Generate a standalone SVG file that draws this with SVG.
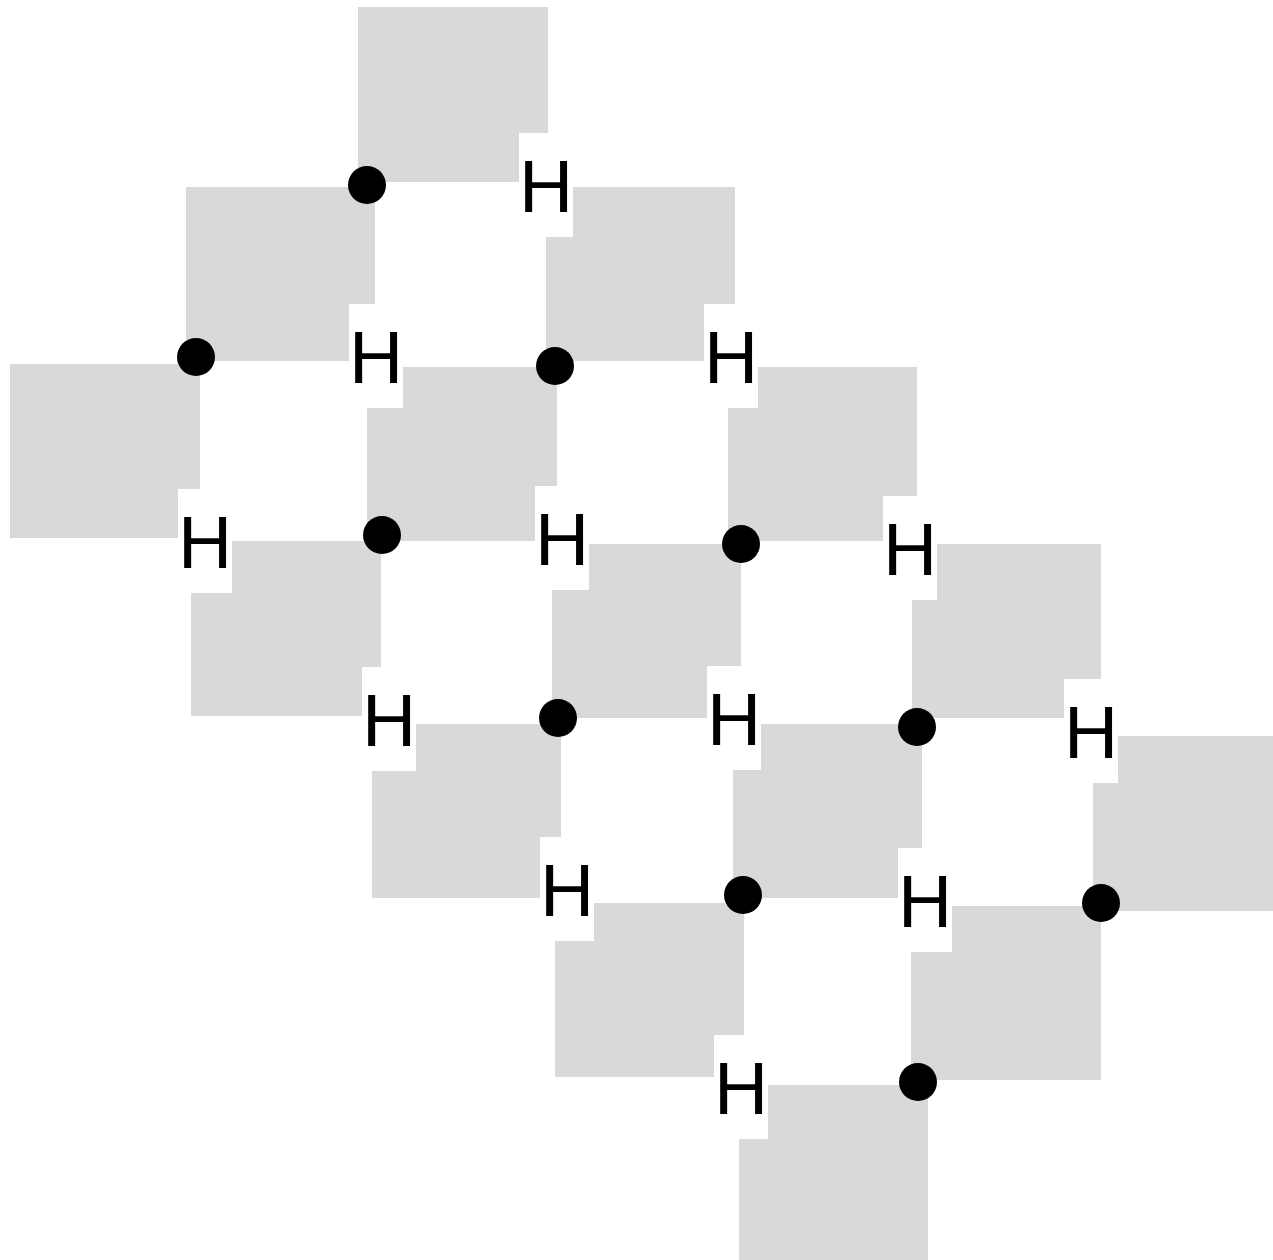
<svg xmlns="http://www.w3.org/2000/svg" width="1273" height="1260" viewBox="0 0 1273 1260">
<style>
.sq{fill:#d9d9d9}
.lb{fill:#ffffff}
.h{font-family:"Liberation Sans",Arial,sans-serif;font-size:75px;fill:#000;text-anchor:middle}
.dot{fill:#000}
</style>
<rect width="1273" height="1260" fill="#ffffff"/>
<g id="squares">
<rect id="sq1" class="sq" x="358" y="7" width="190" height="175"/>
<rect id="sq2" class="sq" x="186" y="187" width="189" height="174"/>
<rect id="sq3" class="sq" x="10" y="364" width="190" height="174"/>
<rect id="sq4" class="sq" x="546" y="187" width="189" height="174"/>
<rect id="sq5" class="sq" x="367" y="367" width="190" height="174"/>
<rect id="sq6" class="sq" x="191" y="541" width="190" height="175"/>
<rect id="sq7" class="sq" x="728" y="367" width="189" height="174"/>
<rect id="sq8" class="sq" x="552" y="544" width="189" height="174"/>
<rect id="sq9" class="sq" x="912" y="544" width="189" height="174"/>
<rect id="sq10" class="sq" x="372" y="724" width="189" height="174"/>
<rect id="sq11" class="sq" x="733" y="724" width="189" height="174"/>
<rect id="sq12" class="sq" x="1093" y="736" width="190" height="175"/>
<rect id="sq13" class="sq" x="555" y="903" width="189" height="174"/>
<rect id="sq14" class="sq" x="911" y="906" width="190" height="174"/>
<rect id="sq15" class="sq" x="739" y="1085" width="189" height="175"/>
</g>
<g id="labels">
<g id="h1"><rect class="lb" x="519" y="133" width="54" height="104"/><text class="h" x="546" y="212">H</text></g>
<g id="h2"><rect class="lb" x="349" y="304" width="54" height="104"/><text class="h" x="376" y="383">H</text></g>
<g id="h3"><rect class="lb" x="704" y="304" width="54" height="104"/><text class="h" x="731" y="383">H</text></g>
<g id="h4"><rect class="lb" x="178" y="489" width="54" height="104"/><text class="h" x="205" y="568">H</text></g>
<g id="h5"><rect class="lb" x="535" y="486" width="54" height="104"/><text class="h" x="562" y="565">H</text></g>
<g id="h6"><rect class="lb" x="883" y="496" width="54" height="104"/><text class="h" x="910" y="575">H</text></g>
<g id="h7"><rect class="lb" x="362" y="667" width="54" height="104"/><text class="h" x="389" y="746">H</text></g>
<g id="h8"><rect class="lb" x="707" y="666" width="54" height="104"/><text class="h" x="734" y="745">H</text></g>
<g id="h9"><rect class="lb" x="1064" y="679" width="54" height="104"/><text class="h" x="1091" y="758">H</text></g>
<g id="h10"><rect class="lb" x="540" y="837" width="54" height="104"/><text class="h" x="567" y="916">H</text></g>
<g id="h11"><rect class="lb" x="898" y="848" width="54" height="104"/><text class="h" x="925" y="927">H</text></g>
<g id="h12"><rect class="lb" x="714" y="1035" width="54" height="104"/><text class="h" x="741" y="1114">H</text></g>
</g>
<g id="dots">
<circle id="d1" class="dot" cx="367" cy="185" r="19"/>
<circle id="d2" class="dot" cx="196" cy="357" r="19"/>
<circle id="d3" class="dot" cx="555" cy="366" r="19"/>
<circle id="d4" class="dot" cx="382" cy="535" r="19"/>
<circle id="d5" class="dot" cx="741" cy="544" r="19"/>
<circle id="d6" class="dot" cx="558" cy="718" r="19"/>
<circle id="d7" class="dot" cx="917" cy="727" r="19"/>
<circle id="d8" class="dot" cx="743" cy="895" r="19"/>
<circle id="d9" class="dot" cx="1101" cy="903" r="19"/>
<circle id="d10" class="dot" cx="918" cy="1082" r="19"/>
</g>
<g id="connectors"></g>
</svg>
